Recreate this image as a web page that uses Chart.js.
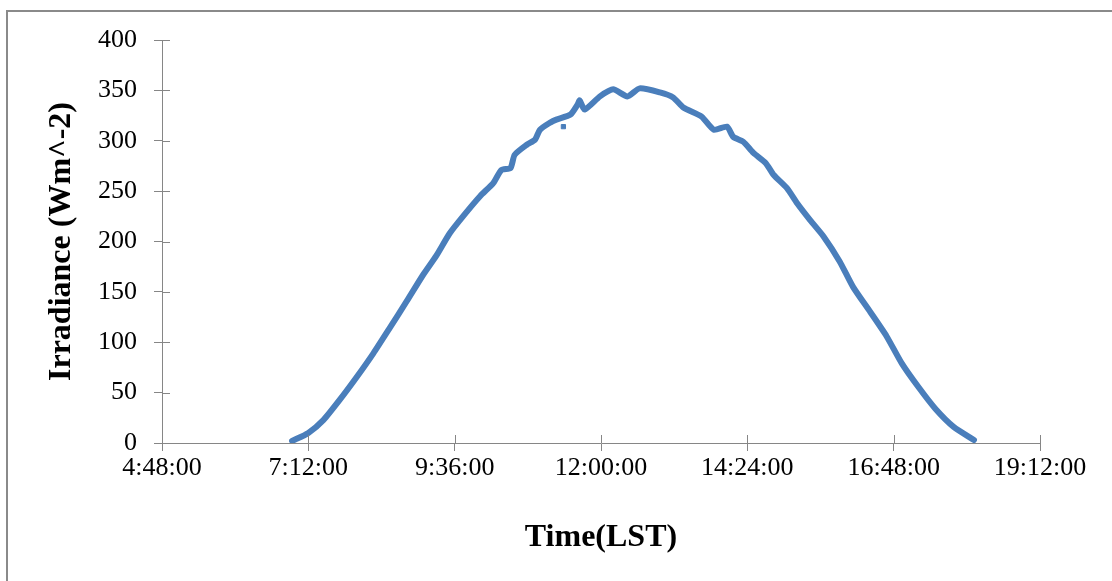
<!DOCTYPE html>
<html>
<head>
<meta charset="utf-8">
<script src="https://cdn.jsdelivr.net/npm/chart.js@4/dist/chart.umd.min.js"></script>
<style>
  html, body { margin: 0; padding: 0; background: #fff; overflow: hidden; }
  #frame { position: absolute; left: 6px; top: 10px; width: 1300px; height: 800px; border: 2px solid #8a8a8a; }
  #myChart { position: absolute; left: 0; top: 0; }
</style>
</head>
<body>
<div id="frame"></div>
<canvas id="myChart" width="1112" height="581"></canvas>
<script>
// ------------------------------------------------------------
// Data (time in minutes after midnight, LST)
// ------------------------------------------------------------
const timeMin = [416, 432, 447, 463, 480, 496, 512, 529, 545, 558, 571, 585, 601, 614, 622, 631, 635, 647, 655, 660,
    670, 676, 690, 697, 699, 704, 719, 732, 746, 758, 778, 791, 801, 819, 831, 844, 850, 860, 870, 882,
    890, 903, 913, 926, 939, 955, 968, 985, 1001, 1016, 1032, 1049, 1067, 1087]
const irradiance = [2, 10, 23, 43, 66, 89, 114, 141, 167, 186, 208, 226, 245, 258, 271, 273, 286, 296, 301, 311,
    318, 321, 326, 336, 340, 331, 344, 351, 344, 352, 348, 343, 333, 324, 311, 314, 304, 299, 288, 278,
    266, 253, 238, 221, 205, 180, 155, 130, 106, 79, 56, 34, 16, 3]
// stray reading below the curve
const strayTime = [683]
const strayValue = [314]

// axis ticks: 4:48:00 .. 19:12:00 every 2:24:00
const xMin = 288, xMax = 1152, xStep = 144
const yMin = 0, yMax = 400, yStep = 50

const blue = '#4a7ebb'
const axisGrey = '#868686'
const serif = '"Liberation Serif", "Times New Roman", serif'

function fmtTime(m) {
    const h = Math.floor(m / 60)
    const mm = Math.round(m % 60)
    return h + ':' + String(mm).padStart(2, '0') + ':00'
}

const pts = timeMin.map((t, i) => ({ x: t, y: irradiance[i] }))
const stray = strayTime.map((t, i) => ({ x: t, y: strayValue[i] }))

// small tick marks on the inner side of both axes (ticks cross the axis)
const crossTicks = {
    id: 'crossTicks',
    afterDraw(chart) {
        const ctx = chart.ctx
        const { x, y } = chart.scales
        const area = chart.chartArea
        ctx.save()
        ctx.strokeStyle = axisGrey
        ctx.lineWidth = 1
        ctx.beginPath()
        y.ticks.forEach((t, i) => {
            const py = Math.round(y.getPixelForTick(i)) + 0.5
            ctx.moveTo(area.left, py)
            ctx.lineTo(area.left + 8, py)
        })
        x.ticks.forEach((t, i) => {
            const px = Math.round(x.getPixelForTick(i)) + 0.5
            ctx.moveTo(px, area.bottom)
            ctx.lineTo(px, area.bottom - 8)
        })
        ctx.stroke()
        ctx.restore()
    }
}

const data = {
    datasets: [
        {
            label: 'Irradiance',
            data: pts,
            showLine: true,
            borderColor: blue,
            backgroundColor: blue,
            borderWidth: 6,
            borderCapStyle: 'round',
            borderJoinStyle: 'round',
            tension: 0.2,
            pointRadius: 0,
        },
        {
            label: 'stray',
            data: stray,
            showLine: false,
            borderColor: blue,
            backgroundColor: blue,
            pointRadius: 3,
            pointStyle: 'rect',
        }
    ]
}

const config = {
    type: 'scatter',
    data: data,
    options: {
        responsive: false,
        animation: false,
        devicePixelRatio: 1,
        layout: { padding: { left: 0, top: 40, right: 72, bottom: 0 } },
        plugins: {
            legend: { display: false },
            tooltip: { enabled: false },
        },
        scales: {
            x: {
                type: 'linear',
                min: xMin,
                max: xMax,
                afterFit: (scale) => { scale.height = 581 - 443 },
                ticks: {
                    stepSize: xStep,
                    color: '#000',
                    padding: 2,
                    maxRotation: 0,
                    font: { family: serif, size: 26 },
                    callback: (v) => fmtTime(v),
                },
                grid: { drawOnChartArea: false, color: axisGrey, tickLength: 8 },
                border: { color: axisGrey, width: 1 },
                title: {
                    display: true,
                    text: 'Time(LST)',
                    color: '#000',
                    padding: { top: 0, bottom: 24 },
                    font: { family: serif, size: 32, weight: 'bold' },
                },
            },
            y: {
                min: yMin,
                max: yMax,
                afterFit: (scale) => { scale.width = 162 },
                ticks: {
                    stepSize: yStep,
                    color: '#000',
                    padding: 17,
                    font: { family: serif, size: 26 },
                },
                grid: { drawOnChartArea: false, color: axisGrey, tickLength: 8 },
                border: { color: axisGrey, width: 1 },
                title: {
                    display: true,
                    text: 'Irradiance (Wm^-2)',
                    color: '#000',
                    padding: { top: 43, bottom: 0 },
                    font: { family: serif, size: 32, weight: 'bold' },
                },
            },
        },
    },
    plugins: [crossTicks],
}

const myChart = new Chart(
    document.getElementById('myChart'),
    config
)
</script>
</body>
</html>
